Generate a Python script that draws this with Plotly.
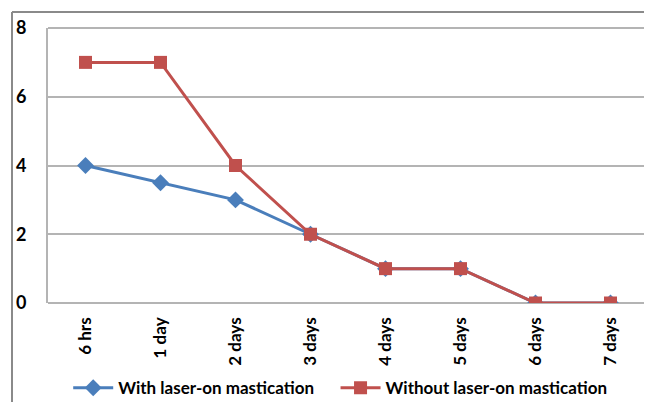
import plotly.graph_objects as go

categories = ["6 hrs", "1 day", "2 days", "3 days", "4 days", "5 days", "6 days", "7 days"]
with_laser = [4, 3.5, 3, 2, 1, 1, 0, 0]
without_laser = [7, 7, 4, 2, 1, 1, 0, 0]
y_ticks = [0, 2, 4, 6, 8]
series_names = ["With laser-on mastication", "Without laser-on mastication"]

FONT = "Lato, Open Sans, sans-serif"
GRID = "#B4B4B4"

fig = go.Figure()
fig.add_trace(go.Scatter(
    x=categories, y=with_laser, mode="lines+markers",
    name=series_names[0] + "\u00a0" * 4,
    line=dict(color="#4A7EBB", width=3),
    marker=dict(symbol="diamond", size=13, color="#4A7EBB"),
))
fig.add_trace(go.Scatter(
    x=categories, y=without_laser, mode="lines+markers",
    name=series_names[1],
    line=dict(color="#C0504D", width=3),
    marker=dict(symbol="square", size=13, color="#C0504D"),
))

# page body has an 8px default margin, so the figure is sized to fit the window
fig.update_layout(
    width=644, height=394,
    margin=dict(l=40, r=4, t=20, b=99, autoexpand=False),
    paper_bgcolor="white", plot_bgcolor="white",
    font=dict(family=FONT, color="black"),
    showlegend=True,
    legend=dict(orientation="h", x=0.487, xanchor="center", y=-0.31, yanchor="middle",
                font=dict(size=17, family=FONT, weight="bold"), itemwidth=40,
                traceorder="normal"),
    xaxis=dict(type="category", range=[-0.5, 7.5], tickangle=-90, automargin=False,
               tickfont=dict(size=17, family=FONT, weight="bold"),
               showgrid=False, showline=False, ticks="", ticklabelstandoff=10),
    yaxis=dict(range=[0, 8], tickvals=y_ticks, showgrid=True, gridcolor=GRID, gridwidth=2,
               automargin=False,
               zeroline=True, zerolinecolor=GRID, zerolinewidth=2,
               showline=True, linecolor=GRID, linewidth=2,
               tickfont=dict(size=18, family=FONT, weight="bold"), ticks="",
               ticklabelstandoff=16),
    shapes=[
        # top gridline of the plot area (at the upper end of the y range)
        dict(type="line", xref="paper", yref="paper", x0=0, x1=1, y0=1, y1=1,
             line=dict(color=GRID, width=2), layer="below"),
        dict(type="line", xref="paper", yref="paper", x0=-0.06, x1=1.02, y0=1.058, y1=1.058,
             line=dict(color="#8A8A8A", width=2)),
        dict(type="line", xref="paper", yref="paper", x0=-0.06, x1=-0.06, y0=1.058, y1=-0.4,
             line=dict(color="#8A8A8A", width=2)),
    ],
)

fig.write_html("out.html")
